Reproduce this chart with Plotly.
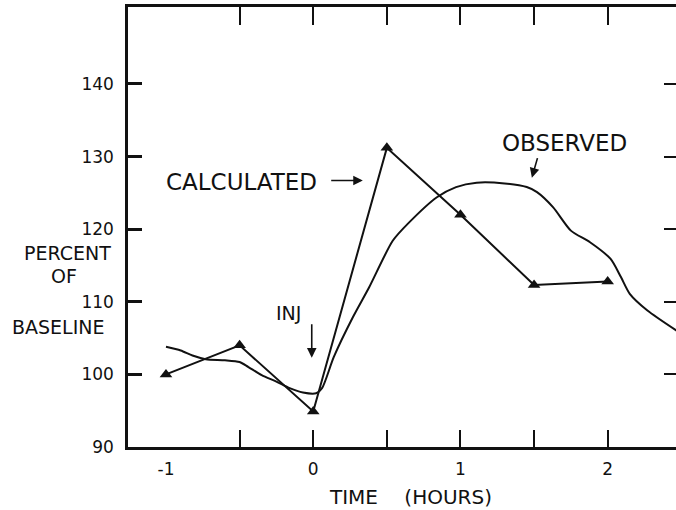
import plotly.graph_objects as go

# Calculated series (triangles)
calc_t = [-1.0, -0.5, 0.0, 0.5, 1.0, 1.5, 2.0]
calc_v = [100.0, 104.0, 94.9, 131.2, 122.0, 112.3, 112.8]

# Observed curve
obs_t = [-1.0, -0.9, -0.82, -0.73, -0.6, -0.5, -0.44, -0.35, -0.25, -0.16, -0.07,
         0.02, 0.06, 0.14, 0.27, 0.38, 0.54, 0.65, 0.84, 0.97, 1.11, 1.3, 1.45,
         1.52, 1.63, 1.75, 1.88, 2.02, 2.09, 2.15, 2.27, 2.47]
obs_v = [103.8, 103.3, 102.6, 102.1, 101.95, 101.7, 101.0, 99.9, 99.0, 98.1, 97.5,
         97.4, 98.1, 102.4, 107.9, 112.0, 118.4, 120.9, 124.4, 125.8, 126.4, 126.3, 125.8,
         125.1, 123.0, 119.8, 118.2, 115.9, 113.4, 111.1, 108.8, 106.0]

x_label_vals = [-1, 0, 1, 2]
x_label_text = ["-1", "0", "1", "2"]
x_tick_vals = [-0.5, 0, 0.5, 1, 1.5, 2]
y_label_vals = [90, 100, 110, 120, 130, 140]
y_tick_vals = [100, 110, 120, 130, 140]

XR = [-1.258, 2.464]
YR = [90, 150.6]
INK = "#111111"
FONT = "DejaVu Sans"

fig = go.Figure()
fig.add_trace(go.Scatter(x=obs_t, y=obs_v, mode="lines",
                         line=dict(color=INK, width=2, shape="spline", smoothing=0.7),
                         showlegend=False, hoverinfo="skip"))
fig.add_trace(go.Scatter(x=calc_t, y=calc_v, mode="lines+markers",
                         line=dict(color=INK, width=2),
                         marker=dict(symbol="triangle-up", size=11, color=INK),
                         showlegend=False, hoverinfo="skip"))

fig.update_layout(
    width=676, height=510,
    margin=dict(l=128, r=0, t=7, b=63),
    paper_bgcolor="white", plot_bgcolor="white",
    font=dict(family=FONT, color=INK, size=17),
    xaxis=dict(range=XR, tickvals=x_label_vals, ticktext=x_label_text, ticks="",
               showline=True, linewidth=2.5, linecolor=INK, mirror=True,
               showgrid=False, zeroline=False, ticklabelstandoff=5,
               tickfont=dict(size=17, family=FONT, color=INK)),
    xaxis2=dict(range=XR, overlaying="x", side="bottom", anchor="y", tickvals=x_tick_vals,
                ticks="inside", ticklen=17, tickwidth=2, tickcolor=INK,
                showticklabels=False, showline=False, showgrid=False, zeroline=False),
    xaxis3=dict(range=XR, overlaying="x", side="top", anchor="y", tickvals=x_tick_vals,
                ticks="inside", ticklen=18, tickwidth=2, tickcolor=INK,
                showticklabels=False, showline=False, showgrid=False, zeroline=False),
    yaxis=dict(range=YR, tickvals=y_label_vals, ticktext=[str(v) for v in y_label_vals],
               ticks="inside", ticklen=14, tickwidth=2.5, tickcolor=INK,
               showline=True, linewidth=2.5, linecolor=INK,
               showgrid=False, zeroline=False, ticklabelstandoff=8,
               tickfont=dict(size=17, family=FONT, color=INK)),
    yaxis3=dict(range=YR, overlaying="y", side="right", anchor="x", tickvals=y_tick_vals,
                ticks="inside", ticklen=12, tickwidth=2, tickcolor=INK,
                showticklabels=False, showline=False, showgrid=False, zeroline=False),
    # extra right-side axis placed on the left frame, ticks pointing into the plot
    yaxis4=dict(range=YR, overlaying="y", side="right", anchor="free", position=0,
                tickvals=y_tick_vals, ticks="outside", ticklen=13, tickwidth=2, tickcolor=INK,
                showticklabels=False, showline=False, showgrid=False, zeroline=False),
)

# invisible traces so overlay axes render
for xa, ya in [("x2", "y"), ("x3", "y3"), ("x", "y4")]:
    fig.add_trace(go.Scatter(x=[XR[0]], y=[YR[0]], xaxis=xa, yaxis=ya, mode="markers",
                             marker=dict(opacity=0), showlegend=False, hoverinfo="skip"))

ann_font = dict(family=FONT, size=23, color=INK)
lab_font = dict(family=FONT, size=19, color=INK)
fig.add_annotation(x=-0.489, y=126.5, text="CALCULATED", showarrow=False, font=ann_font)
fig.add_annotation(x=0.337, y=126.7, ax=0.112, ay=126.7, axref="x", ayref="y",
                   text="", showarrow=True, arrowhead=2, arrowsize=1.2, arrowwidth=1.6, arrowcolor=INK)
fig.add_annotation(x=1.709, y=131.85, text="OBSERVED", showarrow=False, font=ann_font)
fig.add_annotation(x=1.485, y=127.1, ax=1.526, ay=129.99, axref="x", ayref="y",
                   text="", showarrow=True, arrowhead=2, arrowsize=1.2, arrowwidth=1.6, arrowcolor=INK)
fig.add_annotation(x=-0.167, y=108.43, text="INJ", showarrow=False, font=lab_font)
fig.add_annotation(x=-0.010, y=102.3, ax=-0.010, ay=107.1, axref="x", ayref="y",
                   text="", showarrow=True, arrowhead=2, arrowsize=1.2, arrowwidth=1.6, arrowcolor=INK)

# y-axis title lines
fig.add_annotation(xref="paper", yref="y", x=-0.111, y=116.7, text="PERCENT", showarrow=False,
                   font=lab_font, xanchor="center")
fig.add_annotation(xref="paper", yref="y", x=-0.117, y=113.5, text="OF", showarrow=False,
                   font=lab_font, xanchor="center")
fig.add_annotation(xref="paper", yref="y", x=-0.127, y=106.5, text="BASELINE", showarrow=False,
                   font=lab_font, xanchor="center")

# x-axis title
fig.add_annotation(xref="paper", yref="paper", x=0.516, y=-0.1136, text="TIME\u2003 (HOURS)",
                   showarrow=False, font=dict(family=FONT, size=20, color=INK),
                   xanchor="center", yanchor="middle")

fig.write_html("out.html")
